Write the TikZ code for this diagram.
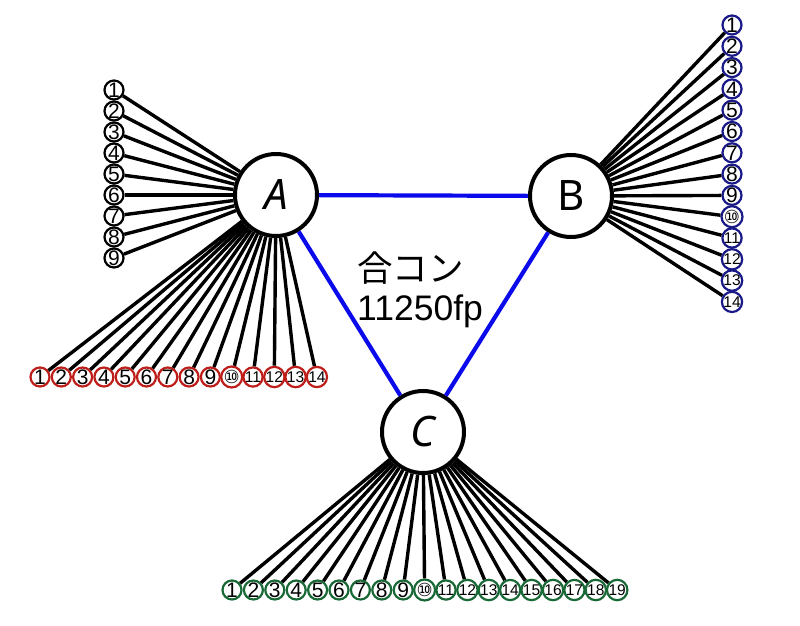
\documentclass[tikz,border=0pt]{standalone}
\usepackage{fontspec}
\setmainfont{Liberation Sans}
\newfontfamily\dejavu{DejaVu Sans}
\newfontfamily\cjk{Noto Sans CJK JP}
\newfontfamily\bigletters{Noto Sans}
\definecolor{redring}{RGB}{190,30,25}
\definecolor{navyring}{RGB}{25,25,135}
\definecolor{greenring}{RGB}{25,105,55}
\definecolor{edgeblue}{RGB}{10,10,235}
\newcommand\circlab[1]{\ifnum#1<10 {\fontsize{21}{21}\selectfont #1}\else\ifnum#1=10 {\dejavu\fontsize{18}{18}\selectfont ⑩}\else{\fontsize{15.5}{15.5}\selectfont #1}\fi\fi}
\tikzset{
  bignode/.style={circle, draw=black, line width=4pt, minimum size=82pt, inner sep=0pt, fill=white,
    font=\bigletters\fontsize{42}{42}\selectfont},
  smallnode/.style={circle, draw=#1, line width=2.2pt, minimum size=19pt, inner sep=0pt, fill=white},
  fanline/.style={line width=3.4pt, black},
  blueedge/.style={line width=4.2pt, edgeblue},
  caption/.style={anchor=base west, inner sep=0pt, font=\fontsize{35.5}{35.5}\selectfont}
}
\begin{document}
\begin{tikzpicture}[x=1pt,y=-1pt]
\useasboundingbox (0,0) rectangle (800,626);
\fill[white] (0,0) rectangle (800,626);
% big nodes
\node[bignode] (A) at (276,195) {\itshape A};
\node[bignode] (B) at (571,196) {B};
\node[bignode] (C) at (423,432) {\itshape C};
% blue triangle
\draw[blueedge] (A) -- (B);
\draw[blueedge] (A) -- (C);
\draw[blueedge] (B) -- (C);
% caption
\node[caption] (t1) at (357,281) {\cjk 合コン};
\node[caption] (t2) at (357,320) {11250fp};
% A left group 1-9
\foreach \i in {1,...,9}{
  \node[smallnode=black] (al\i) at (114,{90+21*(\i-1)}) {\circlab{\i}};
  \draw[fanline] (A) -- (al\i);
}
% A bottom group 1-14
\foreach \i in {1,...,14}{
  \node[smallnode=redring] (ab\i) at ({40+21.3*(\i-1)},377) {\circlab{\i}};
  \draw[fanline] (A) -- (ab\i);
}
% B group 1-14
\foreach \i in {1,...,14}{
  \node[smallnode=navyring] (b\i) at (732,{25+21.3*(\i-1)}) {\circlab{\i}};
  \draw[fanline] (B) -- (b\i);
}
% C group 1-19
\foreach \i in {1,...,19}{
  \node[smallnode=greenring] (c\i) at ({232+21.4*(\i-1)},590) {\circlab{\i}};
  \draw[fanline] (C) -- (c\i);
}
\end{tikzpicture}
\end{document}
